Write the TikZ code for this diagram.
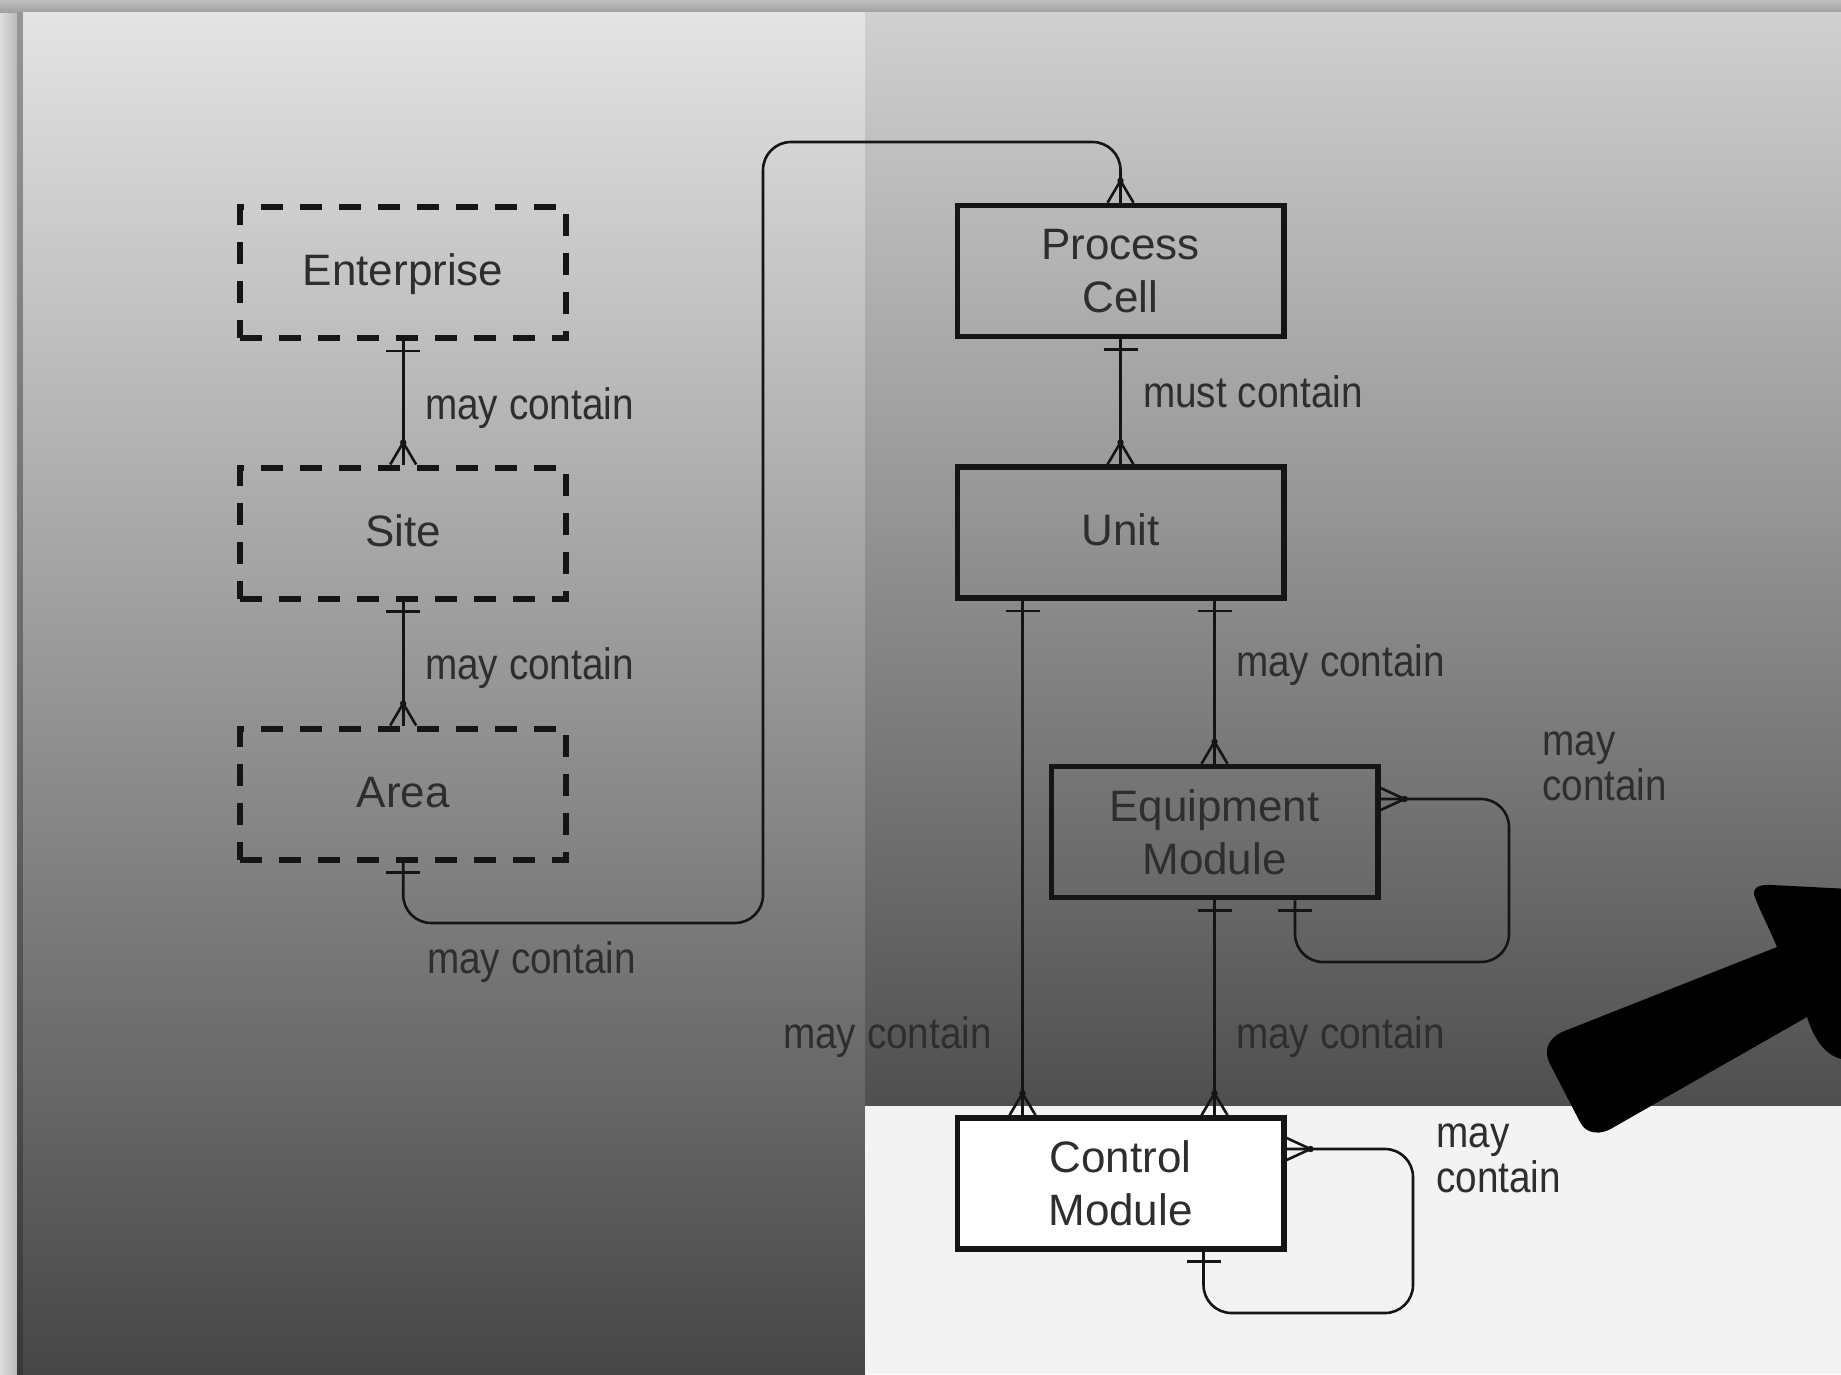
\documentclass[tikz,border=0pt]{standalone}
\usepackage{fontspec}
\setmainfont{Liberation Sans}
\newfontfamily\labfont[FakeStretch=0.88]{Liberation Sans}
\usetikzlibrary{calc}
\definecolor{txt}{HTML}{2E2E2E}
\definecolor{ln}{HTML}{151515}
\definecolor{framebg}{HTML}{C8C8C8}
\definecolor{lightbg}{HTML}{F3F3F3}
\definecolor{fa}{RGB}{222,222,222}
\definecolor{fb}{RGB}{186,186,186}
\definecolor{fc}{RGB}{190,190,190}
\definecolor{fd}{RGB}{160,160,160}
\definecolor{fe}{RGB}{150,150,150}
\definecolor{ff}{RGB}{56,56,56}
\definecolor{lpt}{RGB}{228,228,228}
\definecolor{lpb}{RGB}{70,70,70}
\definecolor{rpt}{RGB}{208,208,208}
\definecolor{rpb}{RGB}{79,79,79}
\newcommand\oneS[1]{\draw[conn] ($(#1)+(-17,10)$) -- ($(#1)+(17,10)$);}
\newcommand\manyN[1]{\draw[conn] ($(#1)+(-13,0)$) -- ($(#1)+(0,-22)$) -- ($(#1)+(13,0)$);\fill[ln] ($(#1)+(0,-22)$) circle (3.2);}
\newcommand\manyE[1]{\draw[conn] ($(#1)+(-2,-12)$) -- ($(#1)+(24,0)$) -- ($(#1)+(-2,12)$);\fill[ln] ($(#1)+(24,0)$) circle (3.2);}
\begin{document}
\begin{tikzpicture}[x=1pt,y=-1pt,
  conn/.style={draw=ln, line width=2.6pt},
  boxbase/.style={draw=ln, minimum width=326.5pt, minimum height=131pt, inner sep=0pt,
     align=center, text=txt, font=\fontsize{44}{53}\selectfont},
  dbox/.style={boxbase, line width=6pt, dash pattern=on 22pt off 17pt, text height=32pt, text depth=6pt},
  sbox/.style={boxbase, line width=5.5pt},
  lab/.style={font=\labfont\fontsize{44}{45}\selectfont, text=txt, anchor=base west,
     inner sep=0pt, align=left}]
\useasboundingbox (0,0) rectangle (1841,1374);
\begin{scope}
\clip (0,0) rectangle (1841,1374);
% frame
\fill[framebg] (0,0) rectangle (1841,1374);
\shade[left color=fa, right color=fb] (0,0) rectangle (17,1374);
\shade[top color=fc, bottom color=fd] (0,0) rectangle (1841,12);
\shade[top color=fe, bottom color=ff] (17,12) rectangle (23,1374);
% panels
\shade[top color=lpt, bottom color=lpb] (23,12) rectangle (865,1374);
\shade[top color=rpt, bottom color=rpb] (865,12) rectangle (1841,1106);
\fill[lightbg] (865,1106) rectangle (1841,1374);
\end{scope}

% entities
\node[dbox] (ent)  at (403.2,272.5) {Enterprise};
\node[dbox] (site) at (403.2,533)   {Site};
\node[dbox] (area) at (403.2,794)   {Area};
\node[sbox] (pc)   at (1120.5,271)  {Process\\Cell};
\node[sbox, text height=32pt, text depth=6pt] (unit) at (1120.5,532.7) {Unit};
\node[sbox] (em)   at (1214.5,832)  {Equipment\\Module};
\node[sbox, fill=white] (cm) at (1120.5,1183.5) {Control\\Module};

% helper coordinates
\coordinate (uL) at ($(unit.south)+(-98,0)$);
\coordinate (uR) at ($(unit.south)+(94,0)$);
\coordinate (cmL) at (uL |- cm.north);
\coordinate (cmM) at (em.south |- cm.north);
\coordinate (emB) at ($(em.south)+(80.5,0)$);
\coordinate (emR) at ($(em.east)+(0,-33)$);
\coordinate (cmB) at ($(cm.south)+(83,0)$);
\coordinate (cmR) at ($(cm.east)+(0,-34.5)$);

% connectors
\draw[conn] (ent.south) -- (site.north);
\oneS{ent.south}\manyN{site.north}
\draw[conn] (site.south) -- (area.north);
\oneS{site.south}\manyN{area.north}
\draw[conn, rounded corners=28pt] (area.south) |- (763,923) -- (763,142) -| (pc.north);
\oneS{area.south}\manyN{pc.north}
\draw[conn] (pc.south) -- (unit.north);
\oneS{pc.south}\manyN{unit.north}
\draw[conn] (uL) -- (cmL);
\oneS{uL}\manyN{cmL}
\draw[conn] (uR) -- (em.north);
\oneS{uR}\manyN{em.north}
\draw[conn] (em.south) -- (cmM);
\oneS{em.south}\manyN{cmM}
\draw[conn, rounded corners=28pt] (emB) |- (1509,962) |- (emR);
\oneS{emB}\manyE{emR}
\draw[conn, rounded corners=28pt] (cmB) |- (1413,1313) |- (cmR);
\oneS{cmB}\manyE{cmR}

% labels
\node[lab] (l1) at (425,419)  {may contain};
\node[lab] (l2) at (425,679)  {may contain};
\node[lab] (l3) at (427,973)  {may contain};
\node[lab] (l4) at (1143,407) {must contain};
\node[lab] (l5) at (1236,676) {may contain};
\node[lab] (l6) at (1236,1048) {may contain};
\node[lab] (l7) at (783,1048) {may contain};
\node[lab] (l8) at (1542,800) {may\\contain};
\node[lab] (l9) at (1436,1192) {may\\contain};

% big black arrow
\begin{scope}
\clip (0,0) rectangle (1841,1374);
\fill[black] (1756,900) .. controls (1750,888) and (1758,884) .. (1772,885)
  -- (1850,889) -- (1850,1060)
  .. controls (1828,1060) and (1815,1042) .. (1807,1017)
  -- (1614,1127) .. controls (1600,1136) and (1586,1134) .. (1580,1122)
  -- (1550,1064) .. controls (1542,1048) and (1550,1036) .. (1567,1030)
  -- (1777,947) .. controls (1770,930) and (1762,915) .. cycle;
\end{scope}
\end{tikzpicture}
\end{document}
